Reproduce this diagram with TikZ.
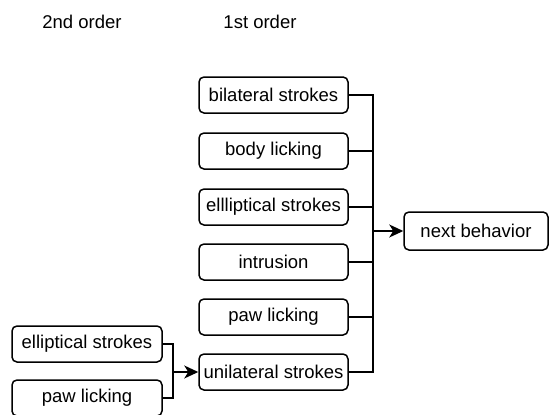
\documentclass[tikz,border=0pt]{standalone}
\usepackage{fontspec}
\setmainfont{Liberation Sans}
\usetikzlibrary{arrows.meta}
\begin{document}
\begin{tikzpicture}[x=1pt,y=-1pt,
  box/.style={draw, line width=1.5pt, rounded corners=5pt, minimum height=36pt,
    inner sep=0pt, font=\fontsize{18.5}{20}\selectfont},
  firstbox/.style={box, minimum width=149pt},
  secondbox/.style={box, minimum width=150pt},
  wire/.style={line width=1.5pt},
  arrowwire/.style={wire, -{Stealth[length=14pt,width=13pt,inset=4pt]}},
  header/.style={font=\fontsize{18.5}{20}\selectfont}]
\useasboundingbox (0,0) rectangle (549,415);
\fill[white] (0,0) rectangle (549,415);

% column headers
\node[header] (h2) at (82,22) {2nd order};
\node[header] (h1) at (260,22) {1st order};

% first-order behaviours
\node[firstbox] (b1) at (273.5,95)  {bilateral strokes};
\node[firstbox] (b2) at (273.5,151) {body licking};
\node[firstbox] (b3) at (273.5,207) {ellliptical strokes};
\node[firstbox] (b4) at (273.5,262) {intrusion};
\node[firstbox] (b5) at (273.5,317) {paw licking};
\node[firstbox] (b6) at (273.5,372) {unilateral strokes};

% target
\node[box, minimum width=144pt, minimum height=38pt] (nb) at (476,231) {next behavior};

% second-order behaviours
\node[secondbox] (s1) at (87,344) {elliptical strokes};
\node[secondbox] (s2) at (87,398) {paw licking};

% first-order bus
\coordinate (j1) at (373,95);
\coordinate (j6) at (373,372);
\draw[wire] (b1.east) -- (j1) -- (j6) -- (b6.east);
\foreach \n in {b2,b3,b4,b5}
  \draw[wire] (\n.east) -- (\n.east -| j1);
\draw[arrowwire] (nb.west -| j1) -- (nb.west);

% second-order bus
\coordinate (k1) at (173,344);
\draw[wire] (s1.east) -- (s1.east -| k1) -- (s2.east -| k1) -- (s2.east);
\draw[arrowwire] (b6.west -| k1) -- (b6.west);
\end{tikzpicture}
\end{document}
